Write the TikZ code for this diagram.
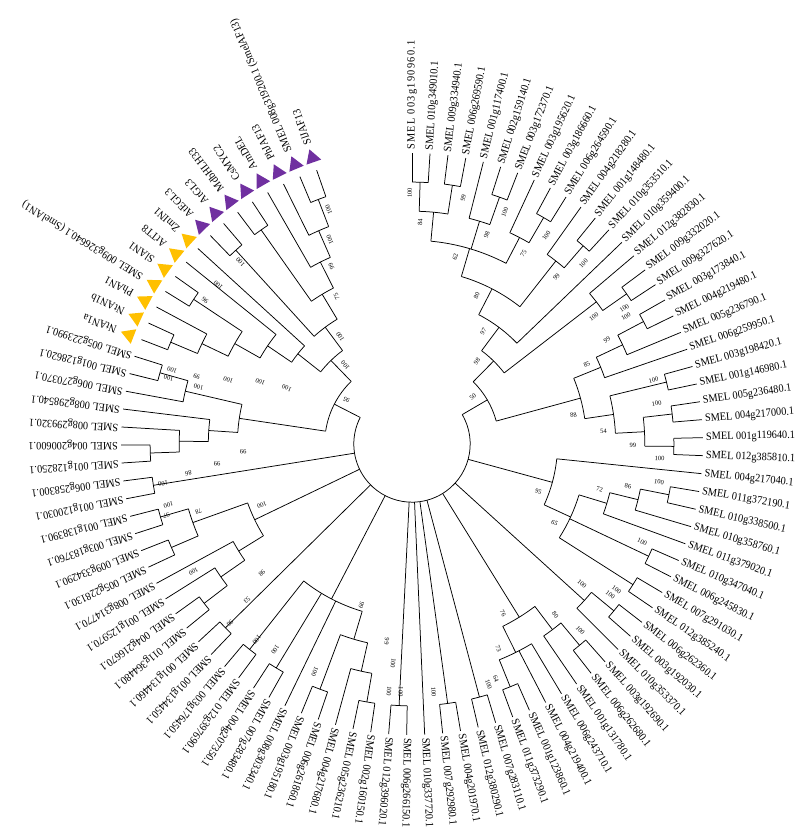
\documentclass[tikz,border=0pt]{standalone}
\usepackage{fontspec}
\setmainfont{Liberation Serif}
\newfontfamily\labfont[FakeStretch=0.92]{Liberation Serif}
\usetikzlibrary{shapes.geometric}
\definecolor{yel}{HTML}{FFC000}
\definecolor{pur}{HTML}{7030A0}
\makeatletter
\newcommand\Ang[1]{\csname ta@#1\endcsname}
\newcommand\Rad[1]{\csname tr@#1\endcsname}
\newcommand\setAR[3]{\expandafter\xdef\csname ta@#1\endcsname{#2}\expandafter\xdef\csname tr@#1\endcsname{#3}}
\makeatother
\newcommand\lf[2]{%
  \pgfmathsetmacro\tmpa{90-3.55*(#1-1)}%
  \setAR{l#1}{\tmpa}{291}%
  \node[lab, rotate=\tmpa] (t#1) at (\tmpa:294pt) {#2};}
\newcommand\mk[3]{%
  \pgfmathsetmacro\tmpa{90-3.55*(#1-1)}%
  \pgfmathsetmacro\tmpt{\tmpa-90}%
  \setAR{l#1}{\tmpa}{290}%
  \node[tri, fill=#3, rotate=\tmpt] (m#1) at (\tmpa:303pt) {};%
  \node[lab, rotate=\tmpa] (t#1) at (\tmpa:317pt) {#2};}
\newcommand\clade[3]{%
  \pgfmathsetmacro\tmpr{291-29.1*#2}%
  \global\let\cfirst\relax
  \foreach \ch in {#3}{%
    \ifx\cfirst\relax\xdef\cfirst{\ch}\fi
    \xdef\clast{\ch}%
    \draw[br] (\Ang{\ch}:\tmpr pt) -- (\Ang{\ch}:\Rad{\ch} pt);%
  }%
  \draw[br] (\Ang{\cfirst}:\tmpr pt) arc[start angle=\Ang{\cfirst}, end angle=\Ang{\clast}, radius=\tmpr pt];%
  \pgfmathsetmacro\tmpm{(\Ang{\cfirst}+\Ang{\clast})/2}%
  \setAR{#1}{\tmpm}{\tmpr}}
\newcommand\bl[4]{\node[bsl, rotate=#3] (#1) at (#3:#2pt) {#4};}
\begin{document}
\begin{tikzpicture}[
  br/.style={line width=0.75pt},
  lab/.style={font=\labfont\fontsize{11.2}{12}\selectfont, inner sep=0pt, anchor=west},
  bsl/.style={font=\fontsize{6.5}{7}\selectfont, inner sep=0pt},
  tri/.style={regular polygon, regular polygon sides=3, minimum size=18pt, inner sep=0pt, draw=none}
]
\useasboundingbox (-412pt,-390pt) rectangle (388pt,444pt);
% leaves
\lf{1}{\addfontfeature{LetterSpace=12}SMEL 003g190960.1}
\lf{2}{SMEL 010g349010.1}
\lf{3}{SMEL 009g334940.1}
\lf{4}{SMEL 006g269590.1}
\lf{5}{SMEL 001g117400.1}
\lf{6}{SMEL 002g159140.1}
\lf{7}{SMEL 003g172370.1}
\lf{8}{SMEL 003g195620.1}
\lf{9}{SMEL 003g186660.1}
\lf{10}{SMEL 006g264590.1}
\lf{11}{SMEL 004g218280.1}
\lf{12}{SMEL 001g148480.1}
\lf{13}{SMEL 010g353510.1}
\lf{14}{SMEL 010g359400.1}
\lf{15}{SMEL 012g382830.1}
\lf{16}{SMEL 009g332020.1}
\lf{17}{SMEL 009g327620.1}
\lf{18}{SMEL 003g173840.1}
\lf{19}{SMEL 004g219480.1}
\lf{20}{SMEL 005g236790.1}
\lf{21}{SMEL 006g259950.1}
\lf{22}{SMEL 003g198420.1}
\lf{23}{SMEL 001g146980.1}
\lf{24}{SMEL 005g236480.1}
\lf{25}{SMEL 004g217000.1}
\lf{26}{SMEL 001g119640.1}
\lf{27}{SMEL 012g385810.1}
\lf{28}{SMEL 004g217040.1}
\lf{29}{SMEL 011g372190.1}
\lf{30}{SMEL 010g338500.1}
\lf{31}{SMEL 010g358760.1}
\lf{32}{SMEL 011g379020.1}
\lf{33}{SMEL 010g347040.1}
\lf{34}{SMEL 006g245830.1}
\lf{35}{SMEL 007g291030.1}
\lf{36}{SMEL 012g385240.1}
\lf{37}{SMEL 006g262360.1}
\lf{38}{SMEL 003g192030.1}
\lf{39}{SMEL 010g353370.1}
\lf{40}{SMEL 003g192690.1}
\lf{41}{SMEL 006g262680.1}
\lf{42}{SMEL 001g131780.1}
\lf{43}{SMEL 006g243710.1}
\lf{44}{SMEL 004g219400.1}
\lf{45}{SMEL 001g123860.1}
\lf{46}{SMEL 011g373290.1}
\lf{47}{SMEL 007g283110.1}
\lf{48}{SMEL 012g380290.1}
\lf{49}{SMEL 004g201970.1}
\lf{50}{SMEL 007g292980.1}
\lf{51}{SMEL 010g337720.1}
\lf{52}{SMEL 006g266150.1}
\lf{53}{SMEL 012g396020.1}
\lf{54}{SMEL 002g160150.1}
\lf{55}{SMEL 005g236210.1}
\lf{56}{SMEL 004g217680.1}
\lf{57}{SMEL 006g261860.1}
\lf{58}{SMEL 003g195180.1}
\lf{59}{SMEL 008g303340.1}
\lf{60}{SMEL 007g283480.1}
\lf{61}{SMEL 004g207350.1}
\lf{62}{SMEL 012g397690.1}
\lf{63}{SMEL 003g176450.1}
\lf{64}{SMEL 001g134450.1}
\lf{65}{SMEL 001g134460.1}
\lf{66}{SMEL 011g364480.1}
\lf{67}{SMEL 004g216670.1}
\lf{68}{SMEL 001g125970.1}
\lf{69}{SMEL 008g314770.1}
\lf{70}{SMEL 005g228130.1}
\lf{71}{SMEL 009g334290.1}
\lf{72}{SMEL 003g183760.1}
\lf{73}{SMEL 001g138390.1}
\lf{74}{SMEL 001g120030.1}
\lf{75}{SMEL 006g258300.1}
\lf{76}{SMEL 001g128250.1}
\lf{77}{SMEL 004g200600.1}
\lf{78}{SMEL 008g299320.1}
\lf{79}{SMEL 008g298540.1}
\lf{80}{SMEL 006g270370.1}
\lf{81}{SMEL 001g128620.1}
\lf{82}{SMEL 005g223990.1}
\mk{83}{NtAN1a}{yel}
\mk{84}{NtAN1b}{yel}
\mk{85}{PhAN1}{yel}
\mk{86}{SMEL 009g326640.1 (SmelAN1)}{yel}
\mk{87}{SlAN1}{yel}
\mk{88}{AtTT8}{yel}
\mk{89}{ZmIN1}{yel}
\mk{90}{AtEGL3}{pur}
\mk{91}{AtGL3}{pur}
\mk{92}{MdbHLH33}{pur}
\mk{93}{CsMYC2}{pur}
\mk{94}{AmDEL}{pur}
\mk{95}{PhJAF13}{pur}
\mk{96}{SMEL 008g319200.1 (SmelAF13)}{pur}
\mk{97}{SlJAF13}{pur}
% clades
\clade{n12}{1}{l1,l2}
\clade{n34}{1}{l3,l4}
\clade{n84}{2}{n12,n34}
\clade{n67}{1}{l6,l7}
\clade{n98a}{2}{l5,n67}
\clade{n910}{1}{l9,l10}
\clade{n75}{2}{l8,n910}
\clade{n62}{3}{n84,n98a,n75}
\clade{n1213}{1}{l12,l13}
\clade{n99a}{2}{l11,n1213}
\clade{n80}{4}{n62,n99a}
\clade{n97}{5}{n80,l14}
\clade{n1617}{1}{l16,l17}
\clade{nX}{2}{l15,n1617}
\clade{n98b}{6}{n97,nX}
\clade{n1819}{1}{l18,l19}
\clade{nZ}{2}{n1819,l20}
\clade{n85}{3}{nZ,l21}
\clade{n2223}{1}{l22,l23}
\clade{n2425}{1}{l24,l25}
\clade{n2627}{1}{l26,l27}
\clade{n99c}{2}{n2425,n2627}
\clade{n54}{3}{n2223,n99c}
\clade{n88}{4}{n85,n54}
\clade{n50}{7}{n98b,n88}
\clade{n2930}{1}{l29,l30}
\clade{n86}{2}{n2930,l31}
\clade{n72}{3}{n86,l32}
\clade{n3334}{1}{l33,l34}
\clade{n3536}{1}{l35,l36}
\clade{n65}{4}{n72,n3334,n3536}
\clade{n95}{5}{l28,n65}
\clade{n3738}{1}{l37,l38}
\clade{n100a}{2}{n3738,l39}
\clade{n4041}{1}{l40,l41}
\clade{n80b}{2}{n4041,l42}
\clade{n4546}{1}{l45,l46}
\clade{n73}{2}{l43,l44,n4546}
\clade{n76}{3}{n80b,n73}
\clade{n4748}{1}{l47,l48}
\clade{n4950}{1}{l49,l50}
\clade{n5253}{1}{l52,l53}
\clade{n5455}{1}{l54,l55}
\clade{nQ}{2}{n5455,l56}
\clade{n5758}{1}{l57,l58}
\clade{nR}{3}{nQ,n5758}
\clade{n6061}{1}{l60,l61}
\clade{n6263}{1}{l62,l63}
\clade{nP}{4}{nR,l59,n6061,n6263}
\clade{n6465}{1}{l64,l65}
\clade{n6667}{1}{l66,l67}
\clade{nd}{2}{n6667,l68}
\clade{nc}{3}{nd,l69}
\clade{n7071}{1}{l70,l71}
\clade{n7273}{1}{l72,l73}
\clade{na}{2}{n7071,n7273}
\clade{nb}{4}{nc,na}
\clade{n7475}{1}{l74,l75}
\clade{n7677}{1}{l76,l77}
\clade{n7678}{2}{n7677,l78}
\clade{n7679}{3}{n7678,l79}
\clade{n8182}{1}{l81,l82}
\clade{n8082}{2}{l80,n8182}
\clade{nll}{4}{n7679,n8082}
\clade{n8384}{1}{l83,l84}
\clade{n8385}{2}{n8384,l85}
\clade{n8687}{1}{l86,l87}
\clade{n8387}{3}{n8385,n8687}
\clade{n8388}{4}{n8387,l88}
\clade{n8389}{5}{n8388,l89}
\clade{n9091}{1}{l90,l91}
\clade{n9293}{1}{l92,l93}
\clade{n9697}{1}{l96,l97}
\clade{n9597}{2}{l95,n9697}
\clade{n9497}{3}{l94,n9597}
\clade{n9297}{4}{n9293,n9497}
\clade{n9097}{5}{n9091,n9297}
\clade{n8397}{6}{n8389,n9097}
\clade{n95L}{7}{nll,n8397}
\clade{root}{8}{n50,n95,n100a,n76,n4748,n4950,l51,n5253,nP,n6465,nb,n7475,n95L}
% bootstrap values
\bl{b1}{251}{90.5}{100}
\bl{b2}{251}{78.2}{99}
\bl{b3}{222}{87.9}{84}
\bl{b4}{250}{68.2}{100}
\bl{b5}{222}{70.3}{98}
\bl{b6}{192}{77}{62}
\bl{b7}{248}{57.2}{100}
\bl{b8}{221}{59.7}{75}
\bl{b9}{162}{66.5}{80}
\bl{b10}{249}{46.5}{100}
\bl{b11}{221}{49.2}{99}
\bl{b12}{133}{57.6}{97}
\bl{b13}{105}{51.8}{98}
\bl{b14}{77}{37.9}{50}
\bl{b15}{222}{35}{100}
\bl{b16}{252}{32.6}{100}
\bl{b17}{249}{30.8}{100}
\bl{b18}{221}{28.1}{99}
\bl{b19}{192}{24.4}{85}
\bl{b20}{250}{14.9}{100}
\bl{b21}{164}{10.2}{88}
\bl{b22}{248}{9.4}{100}
\bl{b23}{192}{3.7}{54}
\bl{b24}{221}{-0.3}{99}
\bl{b25}{248}{-3.3}{100}
\bl{b26}{135}{-20.6}{95}
\bl{b27}{163}{-29}{65}
\bl{b28}{193}{-13.6}{72}
\bl{b29}{220}{-11}{86}
\bl{b30}{250}{-8.7}{100}
\bl{b31}{250}{-23}{100}
\bl{b32}{251}{-35.4}{100}
\bl{b33}{249}{-37.2}{100}
\bl{b34}{220}{-39.4}{100}
\bl{b35}{251}{-47.9}{100}
\bl{b36}{223}{-50}{80}
\bl{b37}{192}{-61.7}{76}
\bl{b38}{222}{-67.1}{73}
\bl{b39}{249}{-70.3}{64}
\bl{b40}{252}{-72.3}{100}
\bl{b41}{249}{-85}{100}
\bl{b42}{248.6}{-95.3}{100}
\bl{b43}{248}{-92.6}{100}
\bl{b44}{220}{-94.9}{100}
\bl{b45}{199}{-97.3}{99}
\bl{b46}{169}{-107.4}{99}
\bl{b47}{247.5}{-113.1}{100}
\bl{b48}{247}{-123.6}{100}
\bl{b49}{250}{-128.4}{100}
\bl{b50}{255.6}{-135.4}{96}
\bl{b51}{227}{-136.6}{53}
\bl{b52}{198}{-139.3}{98}
\bl{b53}{253}{-149.7}{100}
\bl{b54}{162}{-157.9}{100}
\bl{b55}{224}{-162.4}{78}
\bl{b56}{251}{-166}{100}
\bl{b57}{256}{-163.7}{97}
\bl{b58}{252}{-171}{100}
\bl{b59}{225.6}{-172.5}{86}
\bl{b60}{196}{-174.3}{99}
\bl{b61}{169}{-177.4}{99}
\bl{b62}{251}{-197.1}{100}
\bl{b63}{252}{-195.1}{100}
\bl{b64}{225.6}{-197.4}{99}
\bl{b65}{221}{-195}{100}
\bl{b66}{194.5}{-199.2}{100}
\bl{b67}{164}{-202.3}{100}
\bl{b68}{137}{-204}{100}
\bl{b69}{79}{-214}{95}
\bl{b70}{103}{-229.7}{100}
\bl{b71}{129}{-236.2}{100}
\bl{b72}{252}{-214.8}{96}
\bl{b73}{250.6}{-219.4}{100}
\bl{b74}{250}{-226.7}{100}
\bl{b75}{166}{-243}{75}
\bl{b76}{195}{-245.6}{99}
\bl{b77}{220}{-248.1}{100}
\bl{b78}{248.6}{-250.4}{100}
\end{tikzpicture}
\end{document}
